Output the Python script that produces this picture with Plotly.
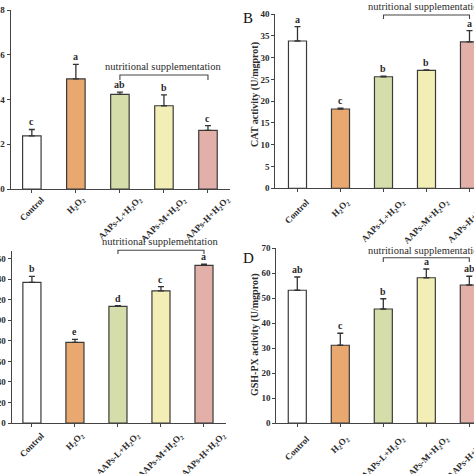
import plotly.graph_objects as go

# ---------------- data ----------------
groups = ["Control", "H<sub>2</sub>O<sub>2</sub>", "AAPs-L+H<sub>2</sub>O<sub>2</sub>",
          "AAPs-M+H<sub>2</sub>O<sub>2</sub>", "AAPs-H+H<sub>2</sub>O<sub>2</sub>"]
bar_colors = ["#FFFFFF", "#E8A870", "#D5DDAA", "#F2EEB6", "#E2B0A8"]

a_vals = [0.237, 0.492, 0.423, 0.372, 0.262]
a_errs = [0.029, 0.065, 0.010, 0.049, 0.021]
a_letters = ["c", "a", "ab", "b", "c"]

b_vals = [33.8, 18.2, 25.6, 27.05, 33.6]
b_errs = [3.3, 0.2, 0.15, 0.15, 2.6]
b_letters = ["a", "c", "b", "b", "a"]

c_vals = [137.0, 78.6, 113.6, 128.6, 153.6]
c_errs = [5.8, 2.8, 0.6, 4.2, 1.0]
c_letters = ["b", "e", "d", "c", "a"]

d_vals = [53.1, 31.1, 45.6, 58.1, 55.2]
d_errs = [5.3, 4.8, 4.1, 3.5, 3.5]
d_letters = ["ab", "c", "b", "a", "ab"]

bracket_label = "nutritional supplementation"

W = H = 474
SERIF = "Liberation Serif"
INK = "#2b2b2b"

def px_x(p):
    return p / W

def px_y(p):
    return 1 - p / H

fig = go.Figure()

panels = [
    dict(s="", vals=a_vals, errs=a_errs, let=a_letters, xd=(10.7, 230), yd=(189, 10),
         xr=[-0.48, 4.5], yr=[0, 0.8], dt=0.2, fmt=".1f", title=None, tag=None,
         br=(67, 75, 80), lab_gap=3),
    dict(s="2", vals=b_vals, errs=b_errs, let=b_letters, xd=(275.3, 474), yd=(188.3, 14),
         xr=[-0.516, 4.105], yr=[0, 40], dt=5, fmt="d", title="CAT activity (U/mgprot)",
         tag=("B", 248, 17.5), ttl_y=95, br=(6.7, 15, 19), lab_gap=6),
    dict(s="3", vals=c_vals, errs=c_errs, let=c_letters, xd=(11.7, 225.5), yd=(423, 250.5),
         xr=[-0.47, 4.5], yr=[0, 168], dt=20, fmt="d", title=None, tag=None,
         br=(241.7, 250.3, 254), lab_gap=5),
    dict(s="4", vals=d_vals, errs=d_errs, let=d_letters, xd=(276.3, 474), yd=(423, 248),
         xr=[-0.488, 4.109], yr=[0, 70], dt=10, fmt="d", title="GSH-PX activity (U/mgprot)",
         tag=("D", 248, 258), ttl_y=335, br=(250, 257.7, 262), lab_gap=8),
]

annotations = []
shapes = []
layout_axes = {}
xs = list(range(len(groups)))

for p in panels:
    s = p["s"]
    xref = "x" + s
    yref = "y" + s
    fig.add_trace(go.Bar(
        x=xs, y=p["vals"], xaxis=xref, yaxis=yref,
        marker=dict(color=bar_colors, line=dict(color="#3a3a3a", width=1.2)),
        width=0.42,
        error_y=dict(type="data", array=p["errs"], arrayminus=[0] * len(p["errs"]),
                     symmetric=False, color="#333333", thickness=1.3, width=3),
        showlegend=False, hoverinfo="skip",
    ))
    layout_axes["xaxis" + s] = dict(
        domain=[px_x(p["xd"][0]), px_x(p["xd"][1])], anchor=yref, range=p["xr"],
        tickmode="array", tickvals=xs, showticklabels=False,
        showline=True, linecolor="#444444", linewidth=1.2, showgrid=False, zeroline=False,
        ticks="outside", ticklen=3, tickcolor="#444444", tickwidth=1,
        automargin=False, fixedrange=True,
    )
    layout_axes["yaxis" + s] = dict(
        domain=[px_y(p["yd"][0]), px_y(p["yd"][1])], anchor=xref, range=p["yr"],
        tickmode="linear", tick0=0, dtick=p["dt"], tickformat=p["fmt"],
        showline=True, linecolor="#444444", linewidth=1.2, showgrid=False, zeroline=False,
        ticks="outside", ticklen=3, tickcolor="#444444", tickwidth=1,
        tickfont=dict(family=SERIF, size=9, color=INK, weight="bold"),
        automargin=False, fixedrange=True,
    )
    # category labels, rotated about their centre (as in the source figure)
    for i, g in enumerate(groups):
        annotations.append(dict(x=i, y=px_y(p["yd"][0] + p["lab_gap"]), xref=xref, yref="paper",
                                text=g, textangle=-45, showarrow=False,
                                xanchor="center", yanchor="top",
                                font=dict(family=SERIF, size=9, color=INK, weight="bold")))
    for i, (v, e, l) in enumerate(zip(p["vals"], p["errs"], p["let"])):
        annotations.append(dict(x=i, y=v + e, xref=xref, yref=yref, text=l, showarrow=False,
                                yanchor="bottom", yshift=0,
                                font=dict(family=SERIF, size=10, color=INK, weight="bold")))
    ty, ly, lb = p["br"]
    shapes.append(dict(type="path", xref=xref, yref="paper",
                       path=f"M 2,{px_y(lb)} L 2,{px_y(ly)} L 4,{px_y(ly)} L 4,{px_y(lb)}",
                       line=dict(color="#444444", width=1.1)))
    annotations.append(dict(x=3, y=px_y(ty), xref=xref, yref="paper", text=bracket_label,
                            showarrow=False, xanchor="center", yanchor="middle",
                            font=dict(family=SERIF, size=10.5, color=INK)))
    if p["title"]:
        annotations.append(dict(x=px_x(255), y=px_y(p["ttl_y"]), xref="paper", yref="paper",
                                text=p["title"], textangle=-90, showarrow=False,
                                xanchor="center", yanchor="middle",
                                font=dict(family=SERIF, size=10, color=INK, weight="bold")))
    if p["tag"]:
        t, tx, tyy = p["tag"]
        annotations.append(dict(x=px_x(tx), y=px_y(tyy), xref="paper", yref="paper", text=t,
                                showarrow=False, xanchor="center", yanchor="middle",
                                font=dict(family=SERIF, size=15, color="#111111")))

fig.update_layout(
    width=W, height=H, margin=dict(l=0, r=0, t=0, b=0),
    paper_bgcolor="white", plot_bgcolor="white", template="none",
    annotations=annotations, shapes=shapes, bargap=0.5,
    **layout_axes,
)

fig.write_html("out.html", config={"displayModeBar": False},
               post_script="document.body.style.margin='0';document.body.style.overflow='hidden';")
